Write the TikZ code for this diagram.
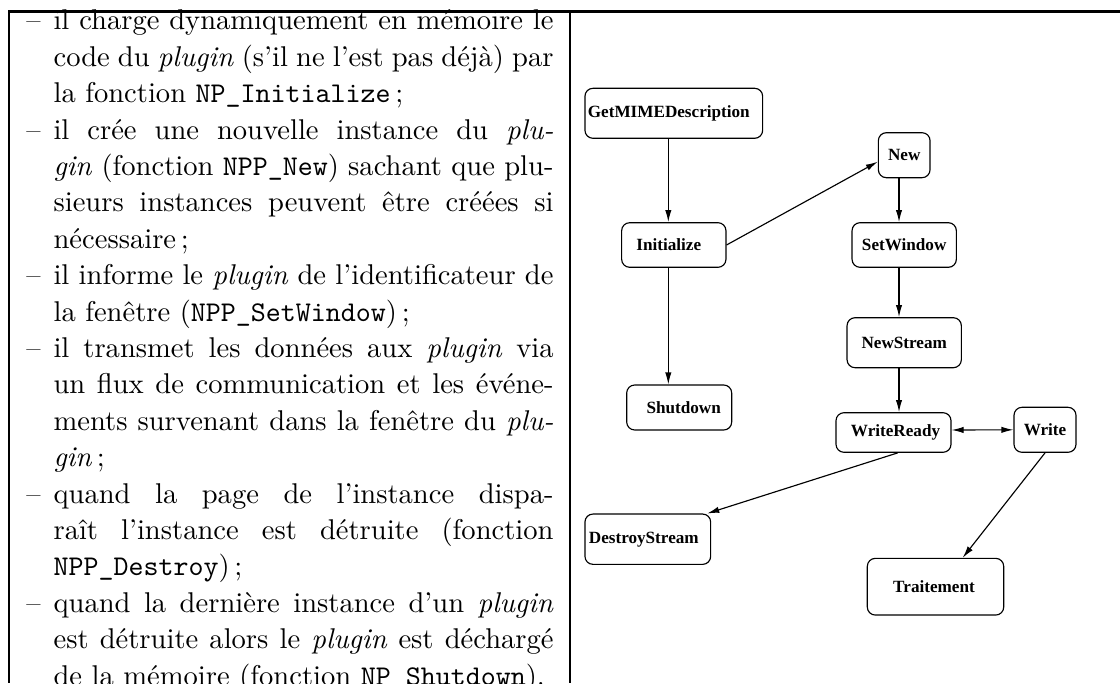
\documentclass[tikz,border=0pt]{standalone}
\usepackage{fontspec}
\newfontfamily\boxfont{Liberation Serif}
\usetikzlibrary{arrows.meta,calc}
\newlength\px \setlength\px{0.35pt}
\newlength\tw \setlength\tw{500\px}
\newcommand\jl[1]{\hbox to\tw{#1}}
\newcommand\el[1]{\hbox to\tw{#1\hfil}}
\newcommand\dl{\llap{\textendash\hspace{13\px}}}
\newcommand\shl[2]{\raisebox{#2\px}{#1}}
\begin{document}
\begin{tikzpicture}[x=0.35pt,y=-0.35pt,
  fn/.style={draw, rounded corners=2.8pt, line width=0.4pt, inner sep=0pt,
    font=\boxfont\bfseries\fontsize{6pt}{7pt}\selectfont},
  sz/.style 2 args={minimum width=#1*0.35pt, minimum height=#2*0.35pt},
  arr/.style={-{Latex[length=4.2pt,width=2.2pt]}, line width=0.4pt},
  rule/.style={line width=#1*0.35pt}]
\useasboundingbox (0,0) rectangle (1120,683);
% table rules
\coordinate (tl) at (8,11.7);
\coordinate (tr) at (1120,11.7);
\coordinate (lt) at (9.3,10.5);
\coordinate (lb) at (9.3,683);
\coordinate (mt) at (570.3,10.5);
\coordinate (mb) at (570.3,683);
\draw[rule=3] (tl) -- (tr);
\draw[rule=2] (lt) -- (lb);
\draw[rule=2] (mt) -- (mb);
% left text
\node[anchor=base west, inner sep=0pt, font=\fontsize{10pt}{36.4\px}\selectfont] (txt) at (53,30) {\vtop{\hsize=\tw
\jl{\dl il charge dynamiquement en mémoire le}
\jl{code du \emph{plugin} (s'il ne l'est pas déjà) par}
\el{la fonction \texttt{NP\_Initialize}\,;}
\jl{\dl il crée une nouvelle instance du \emph{plu-}}
\jl{\emph{gin} (fonction \texttt{NPP\_New}) sachant que plu-}
\jl{sieurs instances peuvent être créées si}
\el{nécessaire\,;}
\jl{\dl il informe le \emph{plugin} de l'identificateur de}
\el{la fenêtre (\texttt{NPP\_SetWindow})\,;}
\jl{\dl il transmet les données aux \emph{plugin} via}
\jl{un flux de communication et les événe-}
\jl{ments survenant dans la fenêtre du \emph{plu-}}
\el{\emph{gin}\,;}
\jl{\dl quand la page de l'instance dispa-}
\jl{raît l'instance est détruite (fonction}
\el{\texttt{NPP\_Destroy})\,;}
\jl{\dl quand la dernière instance d'un \emph{plugin}}
\jl{est détruite alors le \emph{plugin} est déchargé}
\el{de la mémoire (fonction \texttt{NP\_Shutdown}).}
}};
% diagram nodes
\node[fn, sz={177.7}{50}] (gmd) at (673.8,113.3) {\shl{GetMIMEDescription\kern10\px}{3}};
\node[fn, sz={51.7}{45}] (new) at (904.2,155.2) {New};
\node[fn, sz={104.3}{44.6}] (init) at (673.8,245) {Initialize\kern10\px};
\node[fn, sz={104.3}{44.6}] (setw) at (904.2,245) {SetWindow};
\node[fn, sz={114.3}{50}] (news) at (904.2,342.7) {NewStream};
\node[fn, sz={105}{45}] (shut) at (679.2,407.5) {\kern9\px Shutdown};
\node[fn, sz={115}{39.6}] (wr) at (893.5,432.5) {\kern4\px WriteReady};
\node[fn, sz={62}{45}] (write) at (1045,429.8) {Write};
\node[fn, sz={125.7}{50.3}] (ds) at (647.8,539.2) {\shl{DestroyStream\kern8\px}{3}};
\node[fn, sz={136.4}{56.7}] (trait) at (935.5,586.7) {Traitement\kern3\px};
% connectors
\draw[arr] ($(gmd.south)+(-5.5,0)$) -- ($(init.north)+(-5.5,0)$);
\draw[arr] (init.east) -- ($(new.west)+(0,6.5)$);
\draw[arr] ($(new.south)+(-5.2,0)$) -- ($(setw.north)+(-5.2,0)$);
\draw[arr] ($(setw.south)+(-5.2,0)$) -- ($(news.north)+(-5.2,0)$);
\draw[arr] ($(init.south)+(-5.5,0)$) -- ($(shut.north)+(-10.9,0)$);
\draw[arr] ($(news.south)+(-5.2,0)$) -- ($(wr.north)+(5.5,0)$);
\draw[arr, {Latex[length=4.2pt,width=2.2pt]}-{Latex[length=4.2pt,width=2.2pt]}] ($(wr.east)+(0,-2.5)$) -- (write.west);
\draw[arr] ($(wr.south)+(4.2,0)$) -- ($(ds.north east)+(-4,0)$);
\draw[arr] (write.south) -- ($(trait.north)+(27.2,0)$);
\end{tikzpicture}
\end{document}
